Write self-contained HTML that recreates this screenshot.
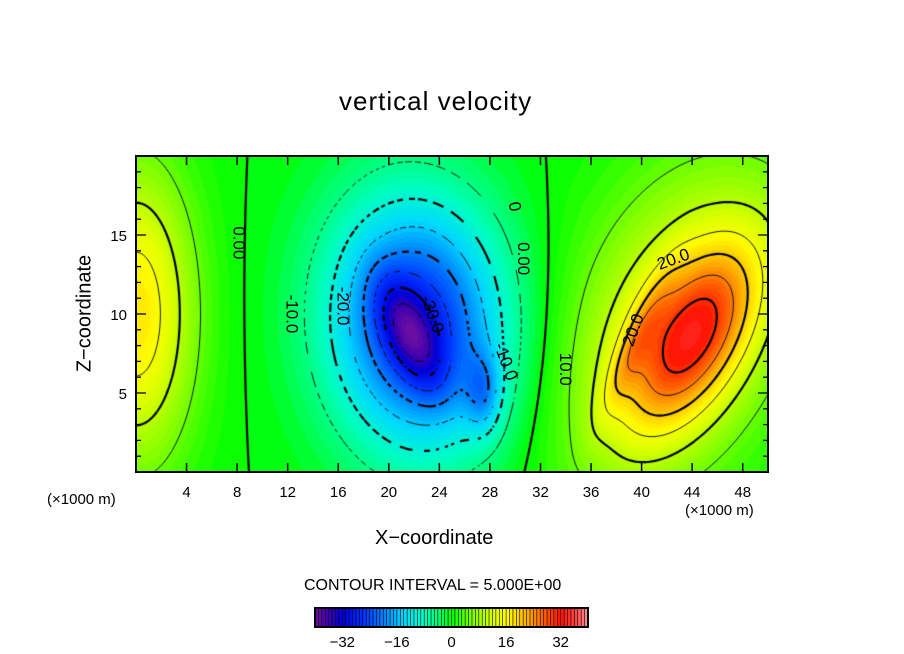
<!DOCTYPE html>
<html><head><meta charset="utf-8">
<style>
body{margin:0;background:#fff;width:904px;height:654px;overflow:hidden;font-family:"Liberation Sans",sans-serif;}
#wrap{position:relative;width:904px;height:654px;}
canvas{position:absolute;}
.t{position:absolute;color:#000;white-space:nowrap;}
</style></head>
<body>
<div id="wrap">
<div class="t" style="left:339px;top:86px;font-size:26px;letter-spacing:1px;">vertical velocity</div>
<canvas id="plot" width="632" height="316" style="left:136px;top:156px;"></canvas>
<svg id="axes" width="904" height="654" style="position:absolute;left:0;top:0"></svg>
<div class="t" style="left:375px;top:527px;font-size:20px;">X−coordinate</div>
<div class="t" style="left:23px;top:302px;font-size:20px;transform:rotate(-90deg);transform-origin:center;width:124px;text-align:center;">Z−coordinate</div>
<div class="t" style="left:47px;top:491px;font-size:15px;">(×1000 m)</div>
<div class="t" style="left:685px;top:502px;font-size:15px;">(×1000 m)</div>
<div class="t" style="left:304px;top:577px;font-size:16px;">CONTOUR INTERVAL = 5.000E+00</div>
</div>
<script>
// field data (blob components)
const blobX=[0,22.3,21.7,27.5,44,43,39.5];
const blobZ=[10,9.3,8.7,5,8.5,9.5,8];
const blobA=[18,-28,-12,-10,20,14,7];
const blobSX=[3.2,4.8,1.3,1,2.6,5.5,0.8];
const blobSZ=[6.5,5.6,2.8,1.8,5,8,3.5];
const blobRot=[0,12,33,0,-40,-35,-30];
const contourLevels=[-35,-30,-25,-20,-15,-10,-5,0,5,10,15,20,25,30];
const xTicks=[4,8,12,16,20,24,28,32,36,40,44,48];
const yTicks=[5,10,15];
const cbTicks=[-32,-16,0,16,32];
const cStops=[[-40,[112,16,160]],[-36,[64,0,176]],[-32,[0,0,216]],[-26,[0,48,255]],[-20,[0,128,255]],[-14,[0,216,255]],[-8,[0,255,192]],[-3,[0,255,96]],[0,[0,255,0]],[6,[128,255,0]],[12,[216,255,0]],[16,[255,255,0]],[22,[255,176,0]],[28,[255,80,0]],[32,[255,16,0]],[36,[255,64,64]],[40,[255,144,144]]];
const labels=[["0.00",8.2,14.5,90],["-10.0",12.4,10,90],["-20.0",16.4,10.5,90],["-30.0",23.5,10,70],["-10.0",29.3,7,70],["0.00",30.7,13.5,90],["10.0",34,6.5,90],["20.0",42.5,13.5,-20],["20.0",39.3,9,-70],["0",30,16.8,80]];

const X0=136,Y0=156,W=632,H=316;
const sx=x=>X0+x*W/50, sy=z=>Y0+H-z*H/20;
function field(x,z){let f=0;for(let i=0;i<blobX.length;i++){const t=blobRot[i]*Math.PI/180,dx=x-blobX[i],dz=z-blobZ[i];const u=Math.cos(t)*dx+Math.sin(t)*dz,v=-Math.sin(t)*dx+Math.cos(t)*dz;f+=blobA[i]*Math.exp(-(u*u/(2*blobSX[i]*blobSX[i])+v*v/(2*blobSZ[i]*blobSZ[i])));}return f;}
function color(v){v=Math.max(-40,Math.min(40,v));for(let i=0;i<cStops.length-1;i++){const a=cStops[i],b=cStops[i+1];if(v<=b[0]){const t=(v-a[0])/(b[0]-a[0]);return a[1].map((c,k)=>Math.round(c+(b[1][k]-c)*t));}}return cStops[cStops.length-1][1];}
const cv=document.getElementById('plot'),ctx=cv.getContext('2d');
const img=ctx.createImageData(W,H);
for(let j=0;j<H;j++)for(let i=0;i<W;i++){const x=(i+0.5)*50/W,z=20-(j+0.5)*20/H;const v=Math.floor(field(x,z));const c=color(v+0.5);const k=(j*W+i)*4;img.data[k]=c[0];img.data[k+1]=c[1];img.data[k+2]=c[2];img.data[k+3]=255;}
ctx.putImageData(img,0,0);
// contours via marching squares
const S=3,NX=Math.ceil(W/S)+1,NY=Math.ceil(H/S)+1,G=[];
for(let j=0;j<NY;j++){G.push([]);for(let i=0;i<NX;i++)G[j].push(field(i*S*50/W,20-j*S*20/H));}
const ncx=22*W/50, ncy=H-9.5*H/20;
contourLevels.forEach(L=>{
  const thick=L%10===0,dash=L<0;
  ctx.strokeStyle='#000';ctx.lineWidth=thick?2.2:0.9;ctx.beginPath();
  for(let j=0;j<NY-1;j++)for(let i=0;i<NX-1;i++){
    const a=G[j][i],b=G[j][i+1],c=G[j+1][i+1],d=G[j+1][i];
    const pts=[];
    const e=(v1,v2,x1,y1,x2,y2)=>{if((v1-L)*(v2-L)<0){const t=(L-v1)/(v2-v1);pts.push([x1+(x2-x1)*t,y1+(y2-y1)*t]);}};
    const x=i*S,y=j*S;
    e(a,b,x,y,x+S,y);e(b,c,x+S,y,x+S,y+S);e(d,c,x,y+S,x+S,y+S);e(a,d,x,y,x,y+S);
    for(let p=0;p+1<pts.length;p+=2){
      if(dash){const mx=(pts[p][0]+pts[p+1][0])/2-ncx,my=(pts[p][1]+pts[p+1][1])/2-ncy;
        const r=Math.hypot(mx,my),s=(Math.atan2(my,mx)+Math.PI)*r;const per=thick?11:9;
        if((s%per)>per*0.6)continue;}
      ctx.moveTo(pts[p][0],pts[p][1]);ctx.lineTo(pts[p+1][0],pts[p+1][1]);}
  }
  ctx.stroke();
});
// axes
const NS='http://www.w3.org/2000/svg',svg=document.getElementById('axes');
function mk(tag,at){const e=document.createElementNS(NS,tag);for(const k in at)e.setAttribute(k,at[k]);svg.appendChild(e);return e;}
const fr=mk('rect',{x:X0,y:Y0,width:W,height:H,fill:'none',stroke:'#000','stroke-width':2});


xTicks.forEach(t=>{const x=sx(t);
  mk('line',{x1:x,y1:Y0+H,x2:x,y2:Y0+H-9,stroke:'#000','stroke-width':1.5});
  mk('line',{x1:x,y1:Y0,x2:x,y2:Y0+9,stroke:'#000','stroke-width':1.5});
  const tx=mk('text',{x:x,y:497,'text-anchor':'middle','font-size':15,'font-family':'Liberation Sans, sans-serif'});tx.textContent=t;
  
  
});
for(let z=1;z<20;z++){const y=sy(z),len=z%5===0?10:5;
  mk('line',{x1:X0,y1:y,x2:X0+len,y2:y,stroke:'#000','stroke-width':1.3});
  mk('line',{x1:X0+W,y1:y,x2:X0+W-len,y2:y,stroke:'#000','stroke-width':1.3});}
yTicks.forEach(t=>{const tx=mk('text',{x:127,y:sy(t)+6,'text-anchor':'end','font-size':15,'font-family':'Liberation Sans, sans-serif'});tx.textContent=t;
  
  });
labels.forEach(l=>{const x=sx(l[1]),y=sy(l[2]);const tx=mk('text',{x:x,y:y+6,'text-anchor':'middle','font-size':17,'font-family':'Liberation Sans, sans-serif',transform:`rotate(${l[3]} ${x} ${y})`});tx.textContent=l[0];
  
  });
// colorbar
const CB0=315,CB1=588,CBy=608,CBh=19,cbx=v=>CB0+(v+40)*(CB1-CB0)/80;
for(let v=-40;v<40;v++){const c=color(v+0.5);const r=mk('rect',{x:cbx(v),y:CBy,width:(CB1-CB0)/80+0.3,height:CBh,fill:`rgb(${c})`});
  
  
  mk('line',{x1:cbx(v),y1:CBy,x2:cbx(v),y2:CBy+CBh,stroke:'#000','stroke-width':0.6});}
const cbf=mk('rect',{x:CB0,y:CBy,width:CB1-CB0,height:CBh,fill:'none',stroke:'#000','stroke-width':2});


cbTicks.forEach(t=>{const tx=mk('text',{x:cbx(t),y:647,'text-anchor':'middle','font-size':15,'font-family':'Liberation Sans, sans-serif'});tx.textContent=t<0?'−'+(-t):t;
  
  });
</script>
</body></html>
